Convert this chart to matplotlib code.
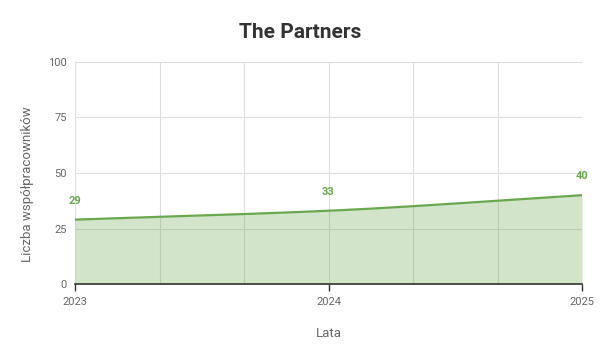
import numpy as np
import matplotlib
matplotlib.use('Agg')
import matplotlib.pyplot as plt

plt.rcParams['font.family'] = ['Roboto', 'DejaVu Sans']

years = [2023, 2024, 2025]
partners = [29, 33, 40]
y_ticks = [0, 25, 50, 75, 100]

GREEN = '#6aa84f'
GRID = '#dddddd'


# monotone cubic curve for drawing the smooth line
def smooth_curve(x, y, n=200):
    x = np.asarray(x, float)
    y = np.asarray(y, float)
    h = np.diff(x)
    d = np.diff(y) / h
    m = np.zeros_like(y)
    m[0], m[-1] = d[0], d[-1]
    for i in range(1, len(x) - 1):
        if d[i - 1] * d[i] > 0:
            m[i] = 2 / (1 / d[i - 1] + 1 / d[i])
    xs = np.linspace(x[0], x[-1], n)
    idx = np.clip(np.searchsorted(x, xs) - 1, 0, len(x) - 2)
    t = (xs - x[idx]) / h[idx]
    h00 = 2 * t**3 - 3 * t**2 + 1
    h10 = t**3 - 2 * t**2 + t
    h01 = -2 * t**3 + 3 * t**2
    h11 = t**3 - t**2
    ys = h00 * y[idx] + h10 * h[idx] * m[idx] + h01 * y[idx + 1] + h11 * h[idx] * m[idx + 1]
    return xs, ys


fig = plt.figure(figsize=(6, 3.6), dpi=100)
ax = fig.add_axes([0.125, 0.211, 0.845, 0.617])

xs, ys = smooth_curve(years, partners)
ax.fill_between(xs, ys, 0, color=GREEN, alpha=0.3, lw=0, zorder=2)
ax.plot(xs, ys, color=GREEN, lw=1.6, zorder=3)

for x, v in zip(years, partners):
    ax.annotate(str(v), (x, v), xytext=(0, 10), textcoords='offset points',
                ha='center', va='bottom', color=GREEN, fontsize=8, fontweight='bold')

ax.set_xlim(years[0], years[-1])
ax.set_ylim(0, 100)
ax.set_xticks(years)
ax.set_xticklabels([str(y) for y in years])
ax.set_xticks(np.linspace(years[0], years[-1], 7), minor=True)
ax.set_yticks(y_ticks)

ax.grid(True, which='both', axis='x', color=GRID, lw=0.8, zorder=1)
ax.grid(True, which='major', axis='y', color=GRID, lw=0.8, zorder=1)
ax.set_axisbelow(True)

for s in ['top', 'right', 'left']:
    ax.spines[s].set_visible(False)
ax.spines['bottom'].set_color('#333333')
ax.spines['bottom'].set_linewidth(1.2)
ax.spines['bottom'].set_zorder(4)

ax.tick_params(axis='x', which='major', length=5, width=1, color='#333333',
               labelsize=8, labelcolor='#666666', pad=4)
ax.tick_params(axis='x', which='minor', length=0)
ax.tick_params(axis='y', length=0, labelsize=8, labelcolor='#666666', pad=6)

ax.set_xlabel('Lata', fontsize=9.5, color='#666666', labelpad=15)
ax.set_ylabel('Liczba współpracowników', fontsize=9.5, color='#666666')
ax.yaxis.set_label_coords(-0.08, 0.45)
fig.suptitle('The Partners', fontsize=15, fontweight='bold', color='#333333', y=0.935)

fig.savefig('out.png', dpi=100)
